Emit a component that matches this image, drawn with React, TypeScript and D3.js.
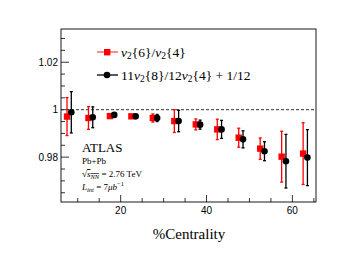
import * as d3 from "d3";

const centrality = [7.5, 12.5, 17.5, 22.5, 27.5, 32.5, 37.5, 42.5, 47.5, 52.5, 57.5, 62.5];
const v64 = [0.9971, 0.9965, 0.9973, 0.9972, 0.9965, 0.9952, 0.9938, 0.9917, 0.9882, 0.9836, 0.9802, 0.9815];
const v64Err = [0.008, 0.0048, 0.0008, 0.0006, 0.0017, 0.0048, 0.0023, 0.0043, 0.004, 0.0045, 0.0107, 0.013];
const v84 = [0.9989, 0.9968, 0.9978, 0.9972, 0.9965, 0.9952, 0.9937, 0.9917, 0.9875, 0.9825, 0.9783, 0.9798];
const v84Err = [0.0087, 0.0044, 0.0007, 0.0006, 0.0015, 0.0045, 0.0019, 0.0038, 0.0036, 0.004, 0.0113, 0.0118];
const xTicks = [20, 40, 60];
const yTicks = [0.98, 1, 1.02];

const W = 363;
const H = 275;
const m = { left: 61, right: 47, top: 29, bottom: 73 };
const serif = "'Liberation Serif', 'Times New Roman', serif";
const sans = "'Liberation Sans', Arial, sans-serif";

export default function App() {
  const x = d3.scaleLinear().domain([6.1, 65.5]).range([m.left, W - m.right]);
  const y = d3.scaleLinear().domain([0.9611, 1.0340]).range([H - m.bottom, m.top]);
  const [x0, x1] = x.range();
  const [y0, y1] = y.range();
  const xMinor = d3.range(10, 66, 5);
  const yMinor = d3.range(0.965, 1.034, 0.005);

  const errBar = (cx: number, v: number, e: number, color: string, k: string) => (
    <g key={k} stroke={color} strokeWidth={1.3}>
      <line x1={cx} x2={cx} y1={y(v - e)} y2={y(v + e)} />
      <line x1={cx - 1.5} x2={cx + 1.5} y1={y(v - e)} y2={y(v - e)} />
      <line x1={cx - 1.5} x2={cx + 1.5} y1={y(v + e)} y2={y(v + e)} />
    </g>
  );

  return (
    <svg width={W} height={H} style={{ position: "absolute", left: 0, top: 0, background: "#fff" }}>
      {/* ticks */}
      <g stroke="#000" strokeWidth={0.8}>
        {yMinor.map((t, i) => {
          const major = yTicks.some((v) => Math.abs(v - t) < 1e-6);
          return <line key={"ym" + i} x1={x0} x2={x0 + (major ? 8 : 4)} y1={y(t)} y2={y(t)} />;
        })}
        {xMinor.map((t) => {
          const major = xTicks.includes(t);
          return <line key={"xm" + t} x1={x(t)} x2={x(t)} y1={y0} y2={y0 - (major ? 7 : 4)} />;
        })}
      </g>
      {yTicks.map((t) => (
        <text key={"yl" + t} x={x0 - 3} y={y(t) + 3.5} textAnchor="end" fontSize={10} fontFamily={sans}>
          {t === 1 ? "1" : t.toFixed(2)}
        </text>
      ))}
      {xTicks.map((t) => (
        <text key={"xl" + t} x={x(t)} y={y0 + 12} textAnchor="middle" fontSize={10} fontFamily={sans}>
          {t}
        </text>
      ))}
      <line x1={x0} x2={x1} y1={y(1)} y2={y(1)} stroke="#333" strokeWidth={1} strokeDasharray="3,2" />

      {centrality.map((c, i) => errBar(x(c), v64[i], v64Err[i], "#ff0000", "re" + i))}
      {centrality.map((c, i) => (
        <rect key={"rs" + i} x={x(c) - 3.2} y={y(v64[i]) - 3.2} width={6.4} height={6.4} fill="#ff0000" />
      ))}
      {centrality.map((c, i) => errBar(x(c + 1), v84[i], v84Err[i], "#000", "be" + i))}
      {centrality.map((c, i) => (
        <circle key={"bc" + i} cx={x(c + 1)} cy={y(v84[i])} r={3.3} fill="#000" />
      ))}

      <rect x={x0} y={y1} width={x1 - x0} height={y0 - y1} fill="none" stroke="#000" strokeWidth={0.9} />

      {/* legend */}
      <g>
        <line x1={97} x2={118} y1={52} y2={52} stroke="#ff5050" strokeWidth={1.3} />
        <rect x={104} y={49} width={6.4} height={6.4} fill="#ff0000" />
        <text x={121} y={56.5} fontSize={13.5} fontFamily={serif}>
          <tspan fontStyle="italic">v</tspan>
          <tspan fontSize={9.5} dy={2.5}>2</tspan>
          <tspan dy={-2.5}>{"{6}/"}</tspan>
          <tspan fontStyle="italic">v</tspan>
          <tspan fontSize={9.5} dy={2.5}>2</tspan>
          <tspan dy={-2.5}>{"{4}"}</tspan>
        </text>
        <line x1={97} x2={118} y1={75} y2={75} stroke="#000" strokeWidth={1.3} />
        <circle cx={107} cy={75} r={3.3} fill="#000" />
        <text x={121} y={79.5} fontSize={13.5} fontFamily={serif}>
          <tspan>11</tspan>
          <tspan fontStyle="italic">v</tspan>
          <tspan fontSize={9.5} dy={2.5}>2</tspan>
          <tspan dy={-2.5}>{"{8}/12"}</tspan>
          <tspan fontStyle="italic">v</tspan>
          <tspan fontSize={9.5} dy={2.5}>2</tspan>
          <tspan dy={-2.5}>{"{4} + 1/12"}</tspan>
        </text>
      </g>

      {/* ATLAS label */}
      <text x={82} y={152} fontSize={13} fontFamily={serif}>ATLAS</text>
      <text x={82} y={163.5} fontSize={9} fontFamily={serif}>Pb+Pb</text>
      <text x={82} y={177} fontSize={9} fontFamily={serif}>
        <tspan>√</tspan>
        <tspan fontStyle="italic" textDecoration="overline">s</tspan>
        <tspan fontStyle="italic" fontSize={6.5} dy={2} textDecoration="overline">NN</tspan>
        <tspan dy={-2}>{" = 2.76 TeV"}</tspan>
      </text>
      <text x={82} y={189.5} fontSize={9} fontFamily={serif}>
        <tspan fontStyle="italic">L</tspan>
        <tspan fontStyle="italic" fontSize={6.5} dy={2}>int</tspan>
        <tspan dy={-2}>{" = 7"}</tspan>
        <tspan fontStyle="italic">{"μb"}</tspan>
        <tspan fontSize={6.5} dy={-4}>{"−1"}</tspan>
      </text>

      <text x={189} y={239} textAnchor="middle" fontSize={15} fontFamily={serif}>%Centrality</text>
    </svg>
  );
}
